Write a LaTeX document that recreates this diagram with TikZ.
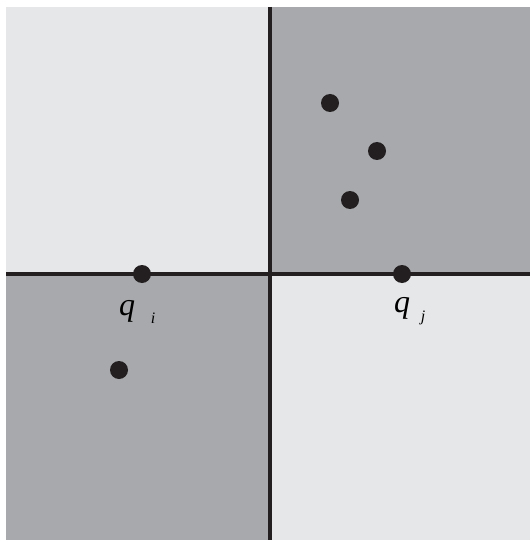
\documentclass[tikz,border=0pt]{standalone}
\usepackage{fontspec}
\setmainfont{Liberation Serif}
\begin{document}
\begin{tikzpicture}[x=1pt,y=-1pt,
  light/.style={fill=lightq, draw=none},
  dark/.style={fill=darkq, draw=none},
  axis/.style={draw=lineq, line width=3.2pt},
  pt/.style={circle, fill=lineq, draw=none, minimum size=18pt, inner sep=0pt},
  big/.style={font=\fontsize{32}{34}\selectfont, inner sep=0pt, anchor=base},
  small/.style={font=\fontsize{16}{17}\selectfont, inner sep=0pt, anchor=base}]
\definecolor{lightq}{HTML}{E6E7E8}
\definecolor{darkq}{HTML}{A7A9AC}
\definecolor{lineq}{HTML}{231F20}
\useasboundingbox (0,0) rectangle (531,540);
\fill[white] (0,0) rectangle (531,540);
\path[light] (6,7) rectangle (270,274);
\path[dark] (270,7) rectangle (530,274);
\path[dark] (6,274) rectangle (270,540);
\path[light] (270,274) rectangle (530,540);
\coordinate (L) at (6,274);
\coordinate (R) at (530,274);
\coordinate (T) at (270,7);
\coordinate (B) at (270,540);
\draw[axis] (L) -- (R);
\draw[axis] (T) -- (B);
\node[pt] (qi) at (142,274) {};
\node[pt] (qj) at (402,274) {};
\node[pt] (p1) at (330,103) {};
\node[pt] (p2) at (377,151) {};
\node[pt] (p3) at (350,200) {};
\node[pt] (p4) at (119,370) {};
\node[big] (qil) at (127,315) {\textit{q}};
\node[small] (qis) at (153,323) {\textit{i}};
\node[big] (qjl) at (402,312) {\textit{q}};
\node[small] (qjs) at (423,321) {\textit{j}};
\end{tikzpicture}
\end{document}
